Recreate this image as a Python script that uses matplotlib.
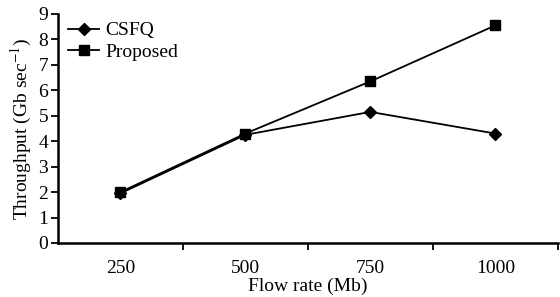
import numpy as np
import matplotlib
matplotlib.use('Agg')
import matplotlib.pyplot as plt
from matplotlib.ticker import FixedLocator

plt.rcParams['font.family'] = ['Liberation Serif', 'DejaVu Serif']
plt.rcParams['mathtext.fontset'] = 'stix'

# data
flow_rates = ['250', '500', '750', '1000']
csfq = [1.95, 4.25, 5.15, 4.3]
proposed = [2.0, 4.3, 6.35, 8.55]

fig = plt.figure(figsize=(5.6, 2.97), dpi=100)
ax = fig.add_axes([0.1036, 0.182, 0.8924, 0.771])

x = np.arange(len(flow_rates))
ax.plot(x, csfq, color='black', lw=1.3, marker='D', ms=6, label='CSFQ')
ax.plot(x, proposed, color='black', lw=1.3, marker='s', ms=7.5, label='Proposed')

ax.set_xlim(-0.5, len(flow_rates) - 0.5)
ax.set_ylim(0, 9)
ax.set_yticks(range(0, 10))
ax.set_xticks(x)
ax.set_xticklabels(flow_rates)
ax.xaxis.set_minor_locator(FixedLocator(x + 0.5))
ax.tick_params(axis='x', which='major', length=0, pad=12, labelsize=14)
ax.tick_params(axis='x', which='minor', length=5, width=1.3, direction='out')
ax.tick_params(axis='y', length=5, width=1.3, direction='out', labelsize=14, pad=2)

for s in ['top', 'right']:
    ax.spines[s].set_visible(False)
for s in ['left', 'bottom']:
    ax.spines[s].set_linewidth(1.8)

ax.set_xlabel('Flow rate (Mb)', fontsize=14, labelpad=1)
ax.set_ylabel('Throughput (Gb sec$^{-1}$)', fontsize=14, labelpad=3)

ax.legend(loc='upper left', frameon=False, fontsize=14, handlelength=1.6,
          borderaxespad=0.0, handletextpad=0.3, labelspacing=0.2,
          bbox_to_anchor=(0.005, 1.0))

fig.savefig('out.png', dpi=100)
